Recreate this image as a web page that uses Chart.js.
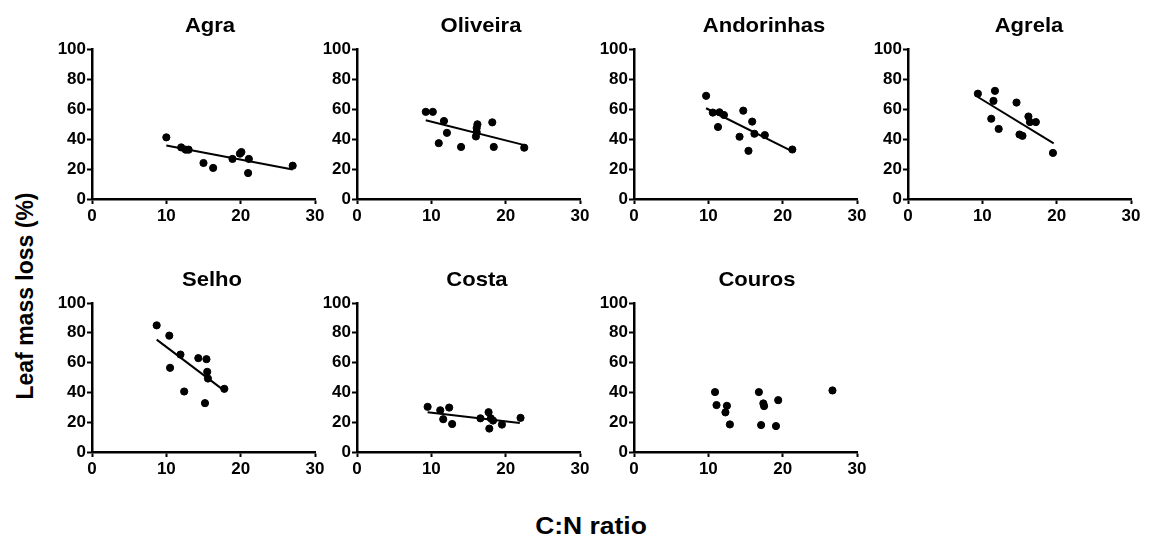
<!DOCTYPE html>
<html>
<head>
<meta charset="utf-8">
<script src="https://cdn.jsdelivr.net/npm/chart.js@4"></script>
<style>
  html, body { margin: 0; padding: 0; background: #fff; }
  body { width: 1152px; height: 543px; position: relative; overflow: hidden; font-family: "Liberation Sans", Arial, sans-serif; }
  canvas { position: absolute; }
  .lab { position: absolute; font-weight: bold; color: #000; white-space: nowrap; font-family: "Liberation Sans", Arial, sans-serif; }
</style>
</head>
<body>
<div class="lab" id="ylab" style="font-size:23px; left:25px; top:296px; transform: translate(-50%,-50%) rotate(-90deg) scaleY(1.08);">Leaf mass loss (%)</div>
<div class="lab" id="xlab" style="font-size:23px; left:591px; top:526px; transform: translate(-50%,-50%) scaleX(1.15);">C:N ratio</div>

<script>
// ---- Data ----
const siteNames = ['Agra', 'Oliveira', 'Andorinhas', 'Agrela', 'Selho', 'Costa', 'Couros'];
const xTickValues = [0, 10, 20, 30];
const yTickValues = [0, 20, 40, 60, 80, 100];

const agraCN   = [10.0, 12.0, 12.6, 13.0, 15.0, 16.3, 18.9, 19.9, 20.1, 21.1, 21.0, 27.0];
const agraLoss = [41.1, 34.4, 32.9, 32.9, 24.0, 20.7, 26.7, 30.2, 31.3, 26.7, 17.3, 22.2];
const agraFitCN = [10.0, 27.0];
const agraFitLoss = [35.6, 19.6];

const oliveiraCN   = [9.25, 10.2, 11.7, 12.1, 11.0, 14.0, 16.0, 16.1, 16.1, 16.2, 18.2, 18.4, 22.5];
const oliveiraLoss = [58.1, 58.1, 52.0, 44.1, 37.2, 34.7, 41.7, 44.6, 47.3, 49.8, 51.1, 34.7, 34.2];
const oliveiraFitCN = [9.25, 22.8];
const oliveiraFitLoss = [52.5, 35.6];

const andorinhasCN   = [9.7, 10.6, 11.5, 12.1, 11.3, 14.2, 14.7, 15.9, 16.2, 17.6, 15.4, 21.3];
const andorinhasLoss = [68.8, 57.6, 57.8, 56.0, 48.0, 41.5, 58.9, 51.6, 43.5, 42.6, 32.1, 33.0];
const andorinhasFitCN = [9.7, 21.3];
const andorinhasFitLoss = [60.5, 31.7];

const agrelaCN   = [9.4, 11.7, 11.5, 11.2, 12.2, 14.6, 16.2, 16.4, 17.2, 15.0, 15.4, 19.5];
const agrelaLoss = [70.2, 72.1, 65.4, 53.5, 46.7, 64.3, 55.0, 51.3, 51.3, 43.0, 42.1, 30.7];
const agrelaFitCN = [9.4, 19.6];
const agrelaFitLoss = [68.0, 37.1];

const selhoCN   = [8.7, 10.4, 11.9, 10.5, 12.4, 14.3, 15.4, 15.5, 15.6, 17.8, 15.2];
const selhoLoss = [85.0, 78.1, 65.4, 56.5, 40.6, 63.0, 62.3, 53.8, 49.3, 42.4, 32.8];
const selhoFitCN = [8.7, 17.7];
const selhoFitLoss = [75.4, 41.5];

const costaCN   = [9.5, 11.2, 12.4, 11.6, 12.8, 16.6, 17.7, 18.0, 18.3, 17.8, 19.5, 22.0];
const costaLoss = [30.3, 28.0, 29.8, 22.0, 18.8, 22.6, 26.7, 22.6, 21.1, 15.7, 18.4, 22.9];
const costaFitCN = [9.5, 21.9];
const costaFitLoss = [26.7, 19.5];

const courosCN   = [10.9, 11.1, 12.5, 12.3, 12.9, 16.8, 17.4, 17.5, 17.1, 19.1, 19.4, 26.7];
const courosLoss = [40.2, 31.5, 31.0, 26.6, 18.5, 40.2, 32.6, 30.8, 18.1, 17.4, 34.8, 41.3];
const courosFitCN = [];
const courosFitLoss = [];

const panelCN   = [agraCN, oliveiraCN, andorinhasCN, agrelaCN, selhoCN, costaCN, courosCN];
const panelLoss = [agraLoss, oliveiraLoss, andorinhasLoss, agrelaLoss, selhoLoss, costaLoss, courosLoss];
const panelFitCN   = [agraFitCN, oliveiraFitCN, andorinhasFitCN, agrelaFitCN, selhoFitCN, costaFitCN, courosFitCN];
const panelFitLoss = [agraFitLoss, oliveiraFitLoss, andorinhasFitLoss, agrelaFitLoss, selhoFitLoss, costaFitLoss, courosFitLoss];

// ---- Layout ----
const FONT = '"Liberation Sans", Arial, sans-serif';
const Y_AXIS_W = 44, X_AXIS_H = 36, PLOT_W = 223, PAD_R = 16, PAD_T = 49;
const panelAxisX = [92, 357, 634, 908, 92, 357, 634];
const panelTop   = [0, 0, 0, 0, 254, 254, 254];
const panelH     = [235, 235, 235, 235, 234, 234, 234];
const titleCenterX = [210, 481, 764, 1029, 212, 477, 757];

const titlePlugin = {
  id: 'panelTitle',
  afterDraw(chart, args, opts) {
    const ctx = chart.ctx;
    ctx.save();
    ctx.font = 'bold 21px ' + FONT;
    ctx.fillStyle = '#000';
    ctx.textAlign = 'center';
    ctx.textBaseline = 'middle';
    ctx.translate(opts.cx, 26);
    ctx.scale(1.05, 1);
    ctx.fillText(opts.text, 0, 0);
    ctx.restore();
  }
};

function axisCommon(min, max, ticksVals, afterFit, pad) {
  return {
    type: 'linear', min: min, max: max,
    afterBuildTicks: s => { s.ticks = ticksVals.map(v => ({ value: v })); },
    ticks: { color: '#000', font: { family: FONT, size: 17, weight: 'bold' }, padding: pad, maxRotation: 0, autoSkip: false },
    grid: { drawOnChartArea: false, drawTicks: true, tickLength: 5, tickWidth: 2, tickColor: '#000', color: '#000' },
    border: { display: true, color: '#000', width: 2.5 },
    afterFit: afterFit
  };
}

siteNames.forEach((name, i) => {
  const cv = document.createElement('canvas');
  const W = Y_AXIS_W + PLOT_W + PAD_R;
  const left = panelAxisX[i] - Y_AXIS_W;
  cv.width = W; cv.height = panelH[i];
  cv.style.left = left + 'px';
  cv.style.top = panelTop[i] + 'px';
  cv.style.width = W + 'px'; cv.style.height = panelH[i] + 'px';
  document.body.appendChild(cv);

  const pts = panelCN[i].map((x, k) => ({ x: x, y: panelLoss[i][k] }));
  const fit = panelFitCN[i].map((x, k) => ({ x: x, y: panelFitLoss[i][k] }));
  const datasets = [{
    type: 'scatter', label: name, data: pts,
    backgroundColor: '#000', borderColor: '#000', pointRadius: 3.6, pointHoverRadius: 3.6, order: 1
  }];
  if (fit.length) {
    datasets.push({
      type: 'line', label: name + ' fit', data: fit,
      borderColor: '#000', borderWidth: 2, pointRadius: 0, fill: false, order: 2
    });
  }

  new Chart(cv, {
    type: 'scatter',
    data: { datasets: datasets },
    plugins: [titlePlugin],
    options: {
      responsive: false, animation: false, devicePixelRatio: 1,
      layout: { padding: { left: 0, right: PAD_R, top: PAD_T, bottom: 0 }, autoPadding: false },
      plugins: { legend: { display: false }, tooltip: { enabled: false }, panelTitle: { text: name, cx: titleCenterX[i] - left } },
      scales: {
        x: axisCommon(0, 30, xTickValues, s => { s.height = X_AXIS_H; }, 2),
        y: axisCommon(0, 100, yTickValues, s => { s.width = Y_AXIS_W; }, 1)
      }
    }
  });
});
</script>
</body>
</html>
